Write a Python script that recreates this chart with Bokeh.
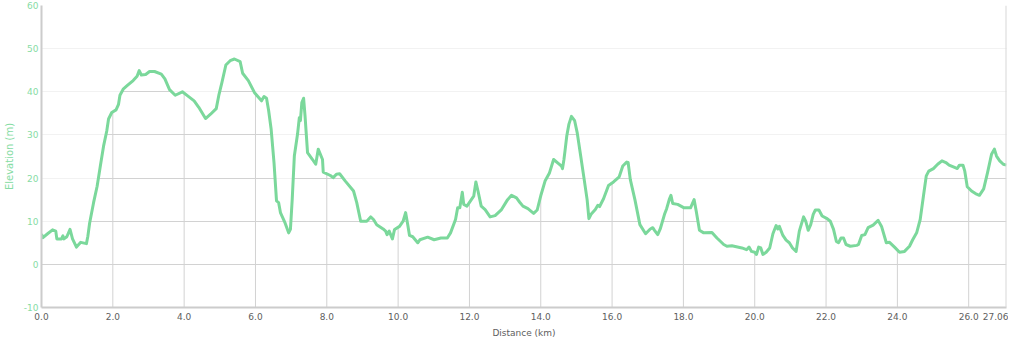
import numpy as np
from bokeh.plotting import figure
from bokeh.models import Range1d, FixedTicker, Span
from bokeh.embed import file_html
from bokeh.resources import INLINE

# ---------------- data ----------------
distance_km = [
    0.00, 0.04, 0.17, 0.31, 0.40, 0.43, 0.56, 0.60, 0.63, 0.71, 0.80, 0.87, 0.98, 1.10, 1.26,
    1.30, 1.35, 1.46, 1.56, 1.65, 1.74, 1.83, 1.88, 1.97, 2.09, 2.16, 2.20, 2.29, 2.40, 2.57,
    2.68, 2.74, 2.80, 2.92, 3.03, 3.17, 3.36, 3.46, 3.59, 3.75, 3.95, 4.09, 4.28, 4.41,
    4.60, 4.74, 4.90, 4.97, 5.06, 5.17, 5.29, 5.41, 5.57, 5.64, 5.80, 5.98, 6.17, 6.24, 6.31,
    6.37, 6.44, 6.52, 6.59, 6.65, 6.70, 6.83, 6.93, 6.98, 7.03, 7.09, 7.18, 7.23, 7.26, 7.30,
    7.35, 7.39, 7.46, 7.60, 7.69, 7.76, 7.88, 7.90, 8.10, 8.18, 8.27, 8.36, 8.52, 8.75, 8.84,
    8.95, 9.12, 9.23, 9.31, 9.40, 9.58, 9.65, 9.69, 9.75, 9.84, 9.90, 10.04, 10.14, 10.21, 10.27,
    10.32, 10.41, 10.55, 10.61, 10.83, 11.01, 11.20, 11.38, 11.47, 11.61, 11.67, 11.73, 11.80,
    11.84, 11.93, 12.12, 12.18, 12.24, 12.33, 12.44, 12.58, 12.72, 12.90, 13.07, 13.18, 13.32, 13.41,
    13.50, 13.64, 13.80, 13.90, 14.01, 14.12, 14.24, 14.36, 14.49, 14.58, 14.61, 14.65, 14.68,
    14.73, 14.79, 14.86, 14.95, 15.02, 15.12, 15.21, 15.30, 15.35, 15.41, 15.53, 15.60, 15.65,
    15.76, 15.90, 16.04, 16.20, 16.30, 16.41, 16.45, 16.51, 16.64, 16.78, 16.94, 17.07, 17.14,
    17.19, 17.28, 17.35, 17.47, 17.53, 17.61, 17.65, 17.70, 17.84,
    18.02, 18.20, 18.30, 18.36, 18.45, 18.57, 18.80, 18.94, 19.13, 19.22, 19.36, 19.64, 19.77,
    19.84, 19.91, 20.00, 20.05, 20.11, 20.17, 20.23, 20.32, 20.42, 20.51, 20.60, 20.65, 20.69,
    20.79, 20.88, 20.97, 21.06, 21.16, 21.25, 21.37, 21.43, 21.50, 21.57, 21.64, 21.70, 21.80,
    21.89, 22.03, 22.12, 22.21,
    22.29, 22.35, 22.42, 22.49, 22.56, 22.68, 22.86, 22.91, 23.00, 23.09, 23.18, 23.32, 23.46,
    23.56, 23.69, 23.78, 23.92, 24.06, 24.20, 24.34, 24.43, 24.54, 24.64, 24.73, 24.81, 24.88,
    25.01, 25.13, 25.25, 25.36, 25.45, 25.62, 25.68, 25.74, 25.84, 25.89, 25.96, 26.08, 26.19,
    26.30, 26.42, 26.53, 26.64, 26.72, 26.78, 26.87, 26.97, 27.06,
]
elevation_m = [
    7.0, 6.2, 7.1, 8.0, 7.7, 5.9, 5.9, 6.6, 5.9, 6.4, 8.1, 5.9, 4.0, 5.1, 4.8,
    6.5, 9.6, 14.3, 18.1, 22.8, 27.4, 30.9, 33.7, 35.2, 35.8, 37.1, 39.2, 40.6, 41.4, 42.6,
    43.6, 44.9, 43.9, 44.0, 44.7, 44.7, 44.1, 43.0, 40.5, 39.2, 40.0, 39.1, 37.9, 36.4,
    33.8, 34.8, 36.1, 39.1, 42.2, 46.2, 47.2, 47.6, 47.0, 44.3, 42.6, 39.7, 37.9, 38.9, 38.5,
    35.6, 31.3, 23.6, 14.7, 14.3, 12.0, 9.6, 7.3, 8.1, 15.0, 25.1, 30.2, 34.0, 33.3, 37.5,
    38.5, 34.4, 25.9, 24.3, 23.2, 26.7, 24.3, 21.4, 20.6, 20.1, 20.9, 21.0, 19.3, 17.0, 14.3,
    10.0, 10.0, 11.0, 10.4, 9.2, 8.2, 7.7, 6.9, 7.7, 5.9, 8.1, 8.8, 10.0, 12.0, 9.2,
    6.7, 6.4, 5.0, 5.7, 6.3, 5.7, 6.1, 6.1, 7.3, 10.4, 13.1, 13.1, 16.7,
    13.9, 13.5, 15.8, 19.1, 17.0, 13.5, 12.7, 11.0, 11.3, 12.7, 15.0, 16.0, 15.4, 14.4,
    13.5, 12.9, 11.8, 12.6, 16.2, 19.3, 21.1, 24.3, 23.4, 22.8, 22.2, 24.3, 26.3,
    29.8, 32.5, 34.3, 33.3, 30.6, 25.1, 20.1, 15.0, 10.6, 11.6, 12.7, 13.7, 13.4,
    15.2, 18.3, 19.1, 20.3, 22.8, 23.7, 23.6, 19.7, 15.0, 9.2, 7.1, 8.2, 8.5,
    7.9, 6.9, 8.2, 11.6, 12.9, 15.2, 16.0, 14.1, 13.9,
    13.1, 13.1, 15.0, 12.3, 7.9, 7.3, 7.4, 6.1, 4.6, 4.2, 4.3, 3.8, 3.4,
    4.0, 3.0, 2.8, 2.3, 4.0, 3.8, 2.3, 2.8, 3.8, 7.1, 9.0, 8.2, 8.8,
    6.7, 5.6, 5.0, 3.8, 3.0, 7.7, 11.0, 10.0, 7.9, 9.2, 11.6, 12.6, 12.6,
    11.2, 10.6, 10.0, 8.1,
    5.3, 5.0, 6.1, 6.1, 4.6, 4.2, 4.4, 4.6, 6.7, 6.9, 8.5, 9.1, 10.2,
    8.7, 5.0, 5.1, 4.0, 2.8, 3.0, 4.2, 5.7, 7.3, 10.4, 15.8, 20.5, 21.6,
    22.2, 23.2, 24.0, 23.6, 23.0, 22.4, 22.2, 23.0, 23.0, 21.6, 18.0, 17.0, 16.4,
    16.0, 17.5, 21.3, 25.5, 26.7, 25.1, 24.0, 23.2, 23.0,
]
x_ticks = [0, 2, 4, 6, 8, 10, 12, 14, 16, 18, 20, 22, 24, 26, 27.06]
x_tick_labels = ["0.0", "2.0", "4.0", "6.0", "8.0", "10.0", "12.0", "14.0", "16.0",
                 "18.0", "20.0", "22.0", "24.0", "26.0", "27.06"]
y_ticks = [-10, 0, 10, 20, 30, 40, 50, 60]
y_tick_labels = ["-10", "0", "10", "20", "30", "40", "50", "60"]

# ---------------- style ----------------
LINE = "#7bd89b"
GREEN_TXT = "#86dca4"
GRAY_TXT = "#606060"
GRID_DARK = "#d2d2d2"
AXIS = "#cccccc"
FONT = "DejaVu Sans"

p = figure(width=1008, height=340, output_backend="svg", toolbar_location=None,
           x_range=Range1d(x_ticks[0], x_ticks[-1]),
           y_range=Range1d(y_ticks[0], y_ticks[-1]),
           min_border_left=0, min_border_right=2, min_border_top=5, min_border_bottom=0)
p.outline_line_color = None
p.background_fill_color = "white"

# x axis
xa = p.xaxis[0]
xa.ticker = FixedTicker(ticks=x_ticks)
xa.major_label_overrides = {t: lab for t, lab in zip(x_ticks, x_tick_labels)}
xa.axis_label = "Distance (km)"
xa.axis_label_text_font = FONT
xa.axis_label_text_font_size = "9px"
xa.axis_label_text_font_style = "normal"
xa.axis_label_text_color = GRAY_TXT
xa.axis_label_standoff = 5
xa.major_label_text_font = FONT
xa.major_label_text_font_size = "9px"
xa.major_label_text_color = GRAY_TXT
xa.major_label_standoff = 5
xa.major_tick_out = 0
xa.major_tick_in = 0
xa.minor_tick_line_color = None
xa.axis_line_color = AXIS
xa.axis_line_width = 2

# y axis
ya = p.yaxis[0]
ya.ticker = FixedTicker(ticks=y_ticks)
ya.major_label_overrides = {t: lab for t, lab in zip(y_ticks, y_tick_labels)}
ya.axis_label = "Elevation (m)"
ya.axis_label_text_font = FONT
ya.axis_label_text_font_size = "10px"
ya.axis_label_text_font_style = "normal"
ya.axis_label_text_color = GREEN_TXT
ya.axis_label_standoff = 6
ya.major_label_text_font = FONT
ya.major_label_text_font_size = "9px"
ya.major_label_text_color = GREEN_TXT
ya.major_label_standoff = 3
ya.major_tick_out = 0
ya.major_tick_in = 0
ya.minor_tick_line_color = None
ya.axis_line_color = AXIS
ya.axis_line_width = 2

# horizontal grid (dark), faded above the profile by a translucent white cover
p.xgrid.grid_line_color = None
p.ygrid.ticker = FixedTicker(ticks=y_ticks)
p.ygrid.grid_line_color = GRID_DARK

p.varea(x=distance_km, y1=elevation_m, y2=y_ticks[-1], fill_color="white", fill_alpha=0.7)

# vertical grid lines, only below the profile
inner_ticks = np.array(x_ticks[1:-1], dtype=float)
p.segment(x0=inner_ticks, y0=y_ticks[0], x1=inner_ticks,
          y1=np.interp(inner_ticks, distance_km, elevation_m),
          line_color=GRID_DARK, line_width=1)

# profile line
p.line(distance_km, elevation_m, line_color=LINE, line_width=3, line_join="round")

# right border
p.add_layout(Span(location=distance_km[-1], dimension="height", line_color="#d8d8d8",
                  line_width=2))

open("out.html", "w").write(file_html(p, INLINE))
